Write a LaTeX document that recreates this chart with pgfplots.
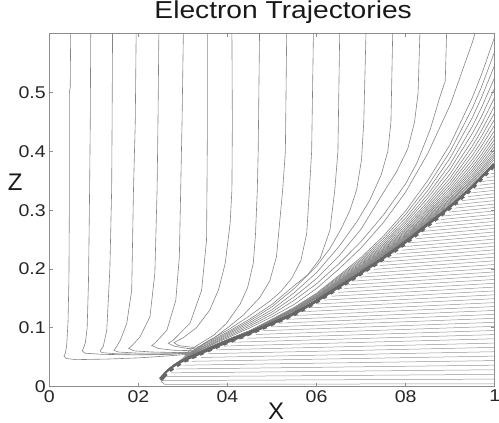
\documentclass[border=0pt]{standalone}
\usepackage{fontspec}
\setmainfont{Liberation Sans}
\newfontfamily\widesans{Liberation Sans}[FakeStretch=1.15]
\usepackage{pgfplots}
\pgfplotsset{compat=1.18}

\begin{document}
\begin{tikzpicture}
\begin{axis}[
  at={(0,0)}, anchor=south west,
  scale only axis, width=445.4bp, height=353.4bp,
  xmin=0, xmax=1, ymin=0, ymax=0.601,
  axis line style={black!45, line width=1.1bp},
  tick style={black!45, line width=0.8bp},
  tick align=inside, major tick length=4bp,
  xtick={0,0.2,0.4,0.6,0.8,1}, xticklabels={0,02,04,06,08,1},
  ytick={0,0.1,0.2,0.3,0.4,0.5}, yticklabels={0,0.1,0.2,0.3,0.4,0.5},
  ticklabel style={font=\widesans\fontsize{17bp}{17bp}\selectfont, text=black!85},
  title={Electron Trajectories},
  title style={font=\widesans\fontsize{24.5bp}{24.5bp}\selectfont, text=black!90,
    at={(axis description cs:0.525,1.0263)}, anchor=base},
  xlabel={X}, ylabel={Z},
  xlabel style={font=\fontsize{24bp}{24bp}\selectfont, text=black!90,
    at={(axis description cs:0.509,-0.0693)}, anchor=center},
  ylabel style={font=\fontsize{24bp}{24bp}\selectfont, text=black!90, rotate=-90,
    at={(axis description cs:-0.0763,0.579)}, anchor=center},
  tr/.style={draw=black!48, line width=0.6bp},
  lo/.style={draw=black!42, line width=0.5bp},
]
% lower trajectories: from the dashed boundary to the right edge
\addplot[lo] coordinates {(0.258,0.004) (1,0.005)};
\addplot[lo] coordinates {(0.252,0.0105) (1,0.0129)};
\addplot[lo] coordinates {(0.2575,0.017) (1,0.0209)};
\addplot[lo] coordinates {(0.266,0.0235) (1,0.0288)};
\addplot[lo] coordinates {(0.2767,0.030) (1,0.0366)};
\addplot[lo] coordinates {(0.29,0.0365) (1,0.0444)};
\addplot[lo] coordinates {(0.306,0.043) (1,0.052)};
\addplot[lo] coordinates {(0.3266,0.0495) (1,0.0595)};
\addplot[lo] coordinates {(0.3469,0.056) (1,0.0669)};
\addplot[lo] coordinates {(0.3672,0.0625) (1,0.0742)};
\addplot[lo] coordinates {(0.3875,0.069) (1,0.0815)};
\addplot[lo] coordinates {(0.4083,0.0755) (1,0.0886)};
\addplot[lo] coordinates {(0.43,0.082) (1,0.0956)};
\addplot[lo] coordinates {(0.4516,0.0885) (1,0.1026)};
\addplot[lo] coordinates {(0.4719,0.095) (1,0.1095)};
\addplot[lo] coordinates {(0.4922,0.1015) (1,0.1163)};
\addplot[lo] coordinates {(0.5118,0.108) (1,0.123)};
\addplot[lo] coordinates {(0.5309,0.1145) (1,0.1297)};
\addplot[lo] coordinates {(0.55,0.121) (1,0.1363)};
\addplot[lo] coordinates {(0.5655,0.1275) (1,0.143)};
\addplot[lo] coordinates {(0.581,0.134) (1,0.1497)};
\addplot[lo] coordinates {(0.5964,0.1405) (1,0.1563)};
\addplot[lo] coordinates {(0.6104,0.147) (1,0.1629)};
\addplot[lo] coordinates {(0.624,0.1535) (1,0.1694)};
\addplot[lo] coordinates {(0.6375,0.16) (1,0.1759)};
\addplot[lo] coordinates {(0.651,0.1665) (1,0.1824)};
\addplot[lo] coordinates {(0.6646,0.173) (1,0.1888)};
\addplot[lo] coordinates {(0.6781,0.1795) (1,0.1952)};
\addplot[lo] coordinates {(0.6917,0.186) (1,0.2015)};
\addplot[lo] coordinates {(0.705,0.1925) (1,0.2078)};
\addplot[lo] coordinates {(0.718,0.199) (1,0.2141)};
\addplot[lo] coordinates {(0.731,0.2055) (1,0.2203)};
\addplot[lo] coordinates {(0.744,0.212) (1,0.2265)};
\addplot[lo] coordinates {(0.7565,0.2185) (1,0.2327)};
\addplot[lo] coordinates {(0.7685,0.225) (1,0.2388)};
\addplot[lo] coordinates {(0.7806,0.2315) (1,0.2449)};
\addplot[lo] coordinates {(0.7926,0.238) (1,0.251)};
\addplot[lo] coordinates {(0.8042,0.2445) (1,0.2571)};
\addplot[lo] coordinates {(0.815,0.251) (1,0.2632)};
\addplot[lo] coordinates {(0.8258,0.2575) (1,0.2692)};
\addplot[lo] coordinates {(0.8367,0.264) (1,0.2752)};
\addplot[lo] coordinates {(0.8475,0.2705) (1,0.2812)};
\addplot[lo] coordinates {(0.8583,0.277) (1,0.2872)};
\addplot[lo] coordinates {(0.8692,0.2835) (1,0.2931)};
\addplot[lo] coordinates {(0.88,0.29) (1,0.299)};
\addplot[lo] coordinates {(0.8908,0.2965) (1,0.3048)};
\addplot[lo] coordinates {(0.9015,0.303) (1,0.3106)};
\addplot[lo] coordinates {(0.911,0.3095) (1,0.3165)};
\addplot[lo] coordinates {(0.9206,0.316) (1,0.3224)};
\addplot[lo] coordinates {(0.9301,0.3225) (1,0.3282)};
\addplot[lo] coordinates {(0.9397,0.329) (1,0.334)};
\addplot[lo] coordinates {(0.9493,0.3355) (1,0.3398)};
\addplot[lo] coordinates {(0.9577,0.342) (1,0.3457)};
\addplot[lo] coordinates {(0.966,0.3485) (1,0.3515)};
\addplot[lo] coordinates {(0.9744,0.355) (1,0.3573)};
\addplot[lo] coordinates {(0.9827,0.3615) (1,0.3631)};
\addplot[lo] coordinates {(0.991,0.368) (1,0.3688)};

% curved trajectories entering from the right edge
\addplot[tr] coordinates {(0.97,0.638) (0.95,0.586) (0.9,0.479) (0.85,0.397) (0.8,0.331) (0.75,0.279) (0.7,0.236) (0.65,0.200) (0.6,0.167) (0.55,0.140) (0.5,0.119) (0.45,0.100) (0.4,0.083) (0.35,0.066) (0.32,0.055) (0.3,0.046) (0.28,0.037) (0.265,0.028) (0.255,0.019) (0.25,0.013) (0.252,0.008) (0.258,0.005)};
\addplot[tr] coordinates {(1,0.595) (0.97,0.530) (0.95,0.492) (0.9,0.412) (0.85,0.351) (0.8,0.299) (0.75,0.256) (0.7,0.220) (0.65,0.189) (0.6,0.159) (0.55,0.135) (0.5,0.115) (0.45,0.095) (0.4,0.080) (0.35,0.064) (0.32,0.054) (0.3,0.046) (0.28,0.037) (0.265,0.028) (0.255,0.019) (0.25,0.013)};
\addplot[tr] coordinates {(1,0.570) (0.97,0.509) (0.95,0.474) (0.9,0.400) (0.85,0.342) (0.8,0.293) (0.75,0.252) (0.7,0.217) (0.65,0.187) (0.6,0.158) (0.55,0.134) (0.5,0.114) (0.45,0.095) (0.4,0.080) (0.35,0.064) (0.32,0.054) (0.3,0.046) (0.28,0.037) (0.265,0.028) (0.255,0.019) (0.25,0.013)};
\addplot[tr] coordinates {(1,0.547) (0.97,0.491) (0.95,0.458) (0.9,0.389) (0.85,0.334) (0.8,0.287) (0.75,0.248) (0.7,0.2145) (0.65,0.185) (0.6,0.1565) (0.55,0.1327) (0.5,0.1137) (0.45,0.095) (0.4,0.080) (0.35,0.064) (0.32,0.054) (0.3,0.046)};
\addplot[tr] coordinates {(1,0.526) (0.97,0.474) (0.95,0.443) (0.9,0.3785) (0.85,0.327) (0.8,0.282) (0.75,0.2445) (0.7,0.212) (0.65,0.183) (0.6,0.155) (0.55,0.132) (0.5,0.113) (0.45,0.095) (0.4,0.080) (0.35,0.064) (0.32,0.054) (0.3,0.046)};
\addplot[tr] coordinates {(1,0.508) (0.97,0.459) (0.95,0.431) (0.9,0.370) (0.85,0.321) (0.8,0.278) (0.75,0.2415) (0.7,0.210) (0.65,0.1815) (0.6,0.154) (0.55,0.131) (0.5,0.1126) (0.45,0.095) (0.4,0.080) (0.35,0.064)};
\addplot[tr] coordinates {(1,0.492) (0.97,0.446) (0.95,0.419) (0.9,0.362) (0.85,0.315) (0.8,0.274) (0.75,0.239) (0.7,0.208) (0.65,0.180) (0.6,0.1534) (0.55,0.1305) (0.5,0.1121) (0.45,0.095) (0.4,0.080) (0.35,0.064)};
\addplot[tr] coordinates {(1,0.478) (0.97,0.435) (0.95,0.4096) (0.9,0.355) (0.85,0.3106) (0.8,0.2705) (0.75,0.2365) (0.7,0.2065) (0.65,0.179) (0.6,0.1526) (0.55,0.1299) (0.5,0.1117) (0.45,0.095)};
\addplot[tr] coordinates {(1,0.466) (0.97,0.4254) (0.95,0.4012) (0.9,0.349) (0.85,0.3065) (0.8,0.2676) (0.75,0.2344) (0.7,0.2051) (0.65,0.178) (0.6,0.1519) (0.55,0.1294) (0.5,0.1114) (0.45,0.095)};
\addplot[tr] coordinates {(1,0.455) (0.97,0.4165) (0.95,0.3935) (0.9,0.3438) (0.85,0.3027) (0.8,0.265) (0.75,0.2326) (0.7,0.2038) (0.65,0.1772) (0.6,0.1513) (0.55,0.129) (0.5,0.1111)};
\addplot[tr] coordinates {(1,0.445) (0.97,0.4085) (0.95,0.3865) (0.9,0.3389) (0.85,0.2993) (0.8,0.2626) (0.75,0.2309) (0.7,0.2026) (0.65,0.1763) (0.6,0.1507) (0.55,0.1286)};
\addplot[tr] coordinates {(1,0.436) (0.97,0.4012) (0.95,0.3802) (0.9,0.3344) (0.85,0.2962) (0.8,0.2604) (0.75,0.2294) (0.7,0.2016) (0.65,0.1756) (0.6,0.1502) (0.55,0.1282)};
\addplot[tr] coordinates {(1,0.428) (0.97,0.3947) (0.95,0.3746) (0.9,0.3305) (0.85,0.2935) (0.8,0.2585) (0.75,0.2281) (0.7,0.2006) (0.65,0.1749) (0.6,0.1497)};
\addplot[tr] coordinates {(1,0.421) (0.97,0.3891) (0.95,0.3697) (0.9,0.3271) (0.85,0.2911) (0.8,0.2568) (0.75,0.2269) (0.7,0.1998) (0.65,0.1744) (0.6,0.1493)};
\addplot[tr] coordinates {(1,0.415) (0.97,0.3842) (0.95,0.3655) (0.9,0.3242) (0.85,0.289) (0.8,0.2554) (0.75,0.2259) (0.7,0.1991) (0.65,0.1739) (0.6,0.149)};
\addplot[tr] coordinates {(1,0.409) (0.97,0.3794) (0.95,0.3613) (0.9,0.3212) (0.85,0.2869) (0.8,0.254) (0.75,0.2249) (0.7,0.1984) (0.65,0.1734)};
\addplot[tr] coordinates {(1,0.404) (0.97,0.3754) (0.95,0.3578) (0.9,0.3188) (0.85,0.2852) (0.8,0.2528) (0.75,0.224) (0.7,0.1978)};
\addplot[tr] coordinates {(1,0.399) (0.97,0.3713) (0.95,0.3543) (0.9,0.3163) (0.85,0.2835) (0.8,0.2516) (0.75,0.2232) (0.7,0.1972)};
\addplot[tr] coordinates {(1,0.395) (0.97,0.3681) (0.95,0.3515) (0.9,0.3144) (0.85,0.2821) (0.8,0.2506) (0.75,0.2225)};
\addplot[tr] coordinates {(1,0.391) (0.97,0.3649) (0.95,0.3487) (0.9,0.3124) (0.85,0.2808) (0.8,0.2496) (0.75,0.2218)};
\addplot[tr] coordinates {(1,0.387) (0.97,0.3616) (0.95,0.3459) (0.9,0.3104) (0.85,0.2794) (0.8,0.2487) (0.75,0.2212)};

% trajectories falling from the top edge
\addplot[tr] coordinates {(0.048,0.601) (0.047,0.51) (0.045,0.50) (0.045,0.30) (0.044,0.18) (0.042,0.11) (0.039,0.07) (0.036,0.057) (0.033,0.052) (0.038,0.048) (0.06,0.046) (0.13,0.047) (0.2,0.049) (0.26,0.052) (0.31,0.055) (0.335,0.057)};
\addplot[tr] coordinates {(0.093,0.601) (0.092,0.45) (0.090,0.30) (0.088,0.18) (0.085,0.10) (0.081,0.075) (0.076,0.064) (0.074,0.061) (0.08,0.057) (0.12,0.055) (0.2,0.054) (0.27,0.055) (0.335,0.058)};
\addplot[tr] coordinates {(0.142,0.601) (0.141,0.45) (0.140,0.335) (0.136,0.2) (0.129,0.096) (0.121,0.068) (0.114,0.061) (0.118,0.058) (0.15,0.056) (0.22,0.055) (0.29,0.056) (0.335,0.058)};
\addplot[tr] coordinates {(0.195,0.601) (0.193,0.45) (0.189,0.335) (0.185,0.164) (0.174,0.108) (0.160,0.08) (0.151,0.068) (0.145,0.062) (0.155,0.059) (0.2,0.057) (0.27,0.057) (0.335,0.059)};
\addplot[tr] coordinates {(0.246,0.601) (0.244,0.45) (0.242,0.335) (0.237,0.193) (0.226,0.119) (0.204,0.085) (0.186,0.07) (0.178,0.065) (0.19,0.061) (0.23,0.059) (0.29,0.058) (0.335,0.06)};
\addplot[tr] coordinates {(0.301,0.601) (0.298,0.45) (0.295,0.335) (0.292,0.221) (0.284,0.147) (0.264,0.096) (0.237,0.074) (0.230,0.070) (0.245,0.065) (0.28,0.062) (0.335,0.061)};
\addplot[tr] coordinates {(0.355,0.601) (0.355,0.45) (0.354,0.335) (0.353,0.249) (0.342,0.164) (0.316,0.108) (0.278,0.079) (0.267,0.074) (0.28,0.069) (0.31,0.065) (0.34,0.064)};
\addplot[tr] coordinates {(0.41,0.601) (0.411,0.45) (0.41,0.335) (0.406,0.278) (0.395,0.21) (0.38,0.165) (0.36,0.13) (0.33,0.1) (0.30,0.083) (0.28,0.075) (0.29,0.07) (0.32,0.067) (0.345,0.068)};
\addplot[tr] coordinates {(0.472,0.601) (0.469,0.4) (0.467,0.335) (0.463,0.26) (0.458,0.21) (0.445,0.168) (0.428,0.14) (0.398,0.108) (0.37,0.088) (0.34,0.074) (0.315,0.062) (0.3,0.048) (0.28,0.038) (0.265,0.028) (0.255,0.019) (0.25,0.013)};
\addplot[tr] coordinates {(0.533,0.601) (0.53,0.4) (0.524,0.335) (0.51,0.221) (0.495,0.18) (0.473,0.152) (0.436,0.122) (0.4,0.1) (0.37,0.083) (0.34,0.07) (0.315,0.058) (0.3,0.046) (0.28,0.037) (0.265,0.028) (0.255,0.019) (0.25,0.013)};
\addplot[tr] coordinates {(0.593,0.601) (0.589,0.4) (0.584,0.335) (0.578,0.261) (0.565,0.215) (0.545,0.185) (0.52,0.162) (0.496,0.146) (0.443,0.117) (0.4,0.096) (0.35,0.075) (0.32,0.059) (0.3,0.046) (0.28,0.037) (0.265,0.028) (0.255,0.019) (0.25,0.013)};
\addplot[tr] coordinates {(0.652,0.601) (0.648,0.4) (0.641,0.335) (0.63,0.266) (0.608,0.218) (0.58,0.19) (0.55,0.172) (0.5,0.14) (0.45,0.115) (0.4,0.093) (0.35,0.073) (0.32,0.058) (0.3,0.046) (0.28,0.037) (0.265,0.028) (0.255,0.019) (0.25,0.013)};
\addplot[tr] coordinates {(0.711,0.601) (0.706,0.45) (0.701,0.386) (0.69,0.335) (0.675,0.30) (0.655,0.268) (0.63,0.235) (0.6,0.205) (0.55,0.167) (0.5,0.136) (0.45,0.112) (0.4,0.091) (0.35,0.071) (0.32,0.057) (0.3,0.046) (0.28,0.037) (0.265,0.028)};
\addplot[tr] coordinates {(0.771,0.601) (0.767,0.45) (0.76,0.40) (0.745,0.36) (0.72,0.318) (0.69,0.28) (0.65,0.238) (0.6,0.194) (0.55,0.16) (0.5,0.131) (0.45,0.109) (0.4,0.089) (0.35,0.07) (0.32,0.057) (0.3,0.046) (0.28,0.037) (0.265,0.028)};
\addplot[tr] coordinates {(0.832,0.601) (0.828,0.5) (0.82,0.45) (0.805,0.405) (0.78,0.366) (0.75,0.33) (0.7,0.268) (0.65,0.222) (0.6,0.184) (0.55,0.153) (0.5,0.127) (0.45,0.106) (0.4,0.087) (0.35,0.068) (0.32,0.056) (0.3,0.046) (0.28,0.037)};
\addplot[tr] coordinates {(0.892,0.601) (0.889,0.52) (0.877,0.493) (0.855,0.437) (0.825,0.38) (0.8,0.345) (0.75,0.292) (0.7,0.247) (0.65,0.209) (0.6,0.175) (0.55,0.147) (0.5,0.123) (0.45,0.103) (0.4,0.085) (0.35,0.067) (0.32,0.056) (0.3,0.046) (0.28,0.037)};

% dark band where the trajectories crowd, and the dashed white boundary
\addplot[black!60, line width=4.2bp, smooth] coordinates {(0.25,0.012) (0.258,0.019) (0.27,0.028) (0.3,0.043) (0.35,0.060) (0.4,0.076) (0.45,0.091) (0.5,0.107) (0.55,0.124) (0.6,0.145) (0.65,0.169) (0.7,0.193) (0.75,0.218) (0.8,0.245) (0.85,0.275) (0.9,0.305) (0.95,0.339) (1,0.378)};
\addplot[white, line width=2.8bp, dash pattern=on 4bp off 4.5bp, smooth] coordinates {(0.265,0.021) (0.28,0.030) (0.3,0.039) (0.35,0.055) (0.4,0.071) (0.45,0.086) (0.5,0.102) (0.55,0.119) (0.6,0.140) (0.65,0.164) (0.7,0.188) (0.75,0.213) (0.8,0.240) (0.85,0.270) (0.9,0.300) (0.95,0.334) (1,0.373)};
\end{axis}
\pgfresetboundingbox
\useasboundingbox (-49.3bp,-36.3bp) rectangle (449.7bp,386.7bp);
\end{tikzpicture}
\end{document}
